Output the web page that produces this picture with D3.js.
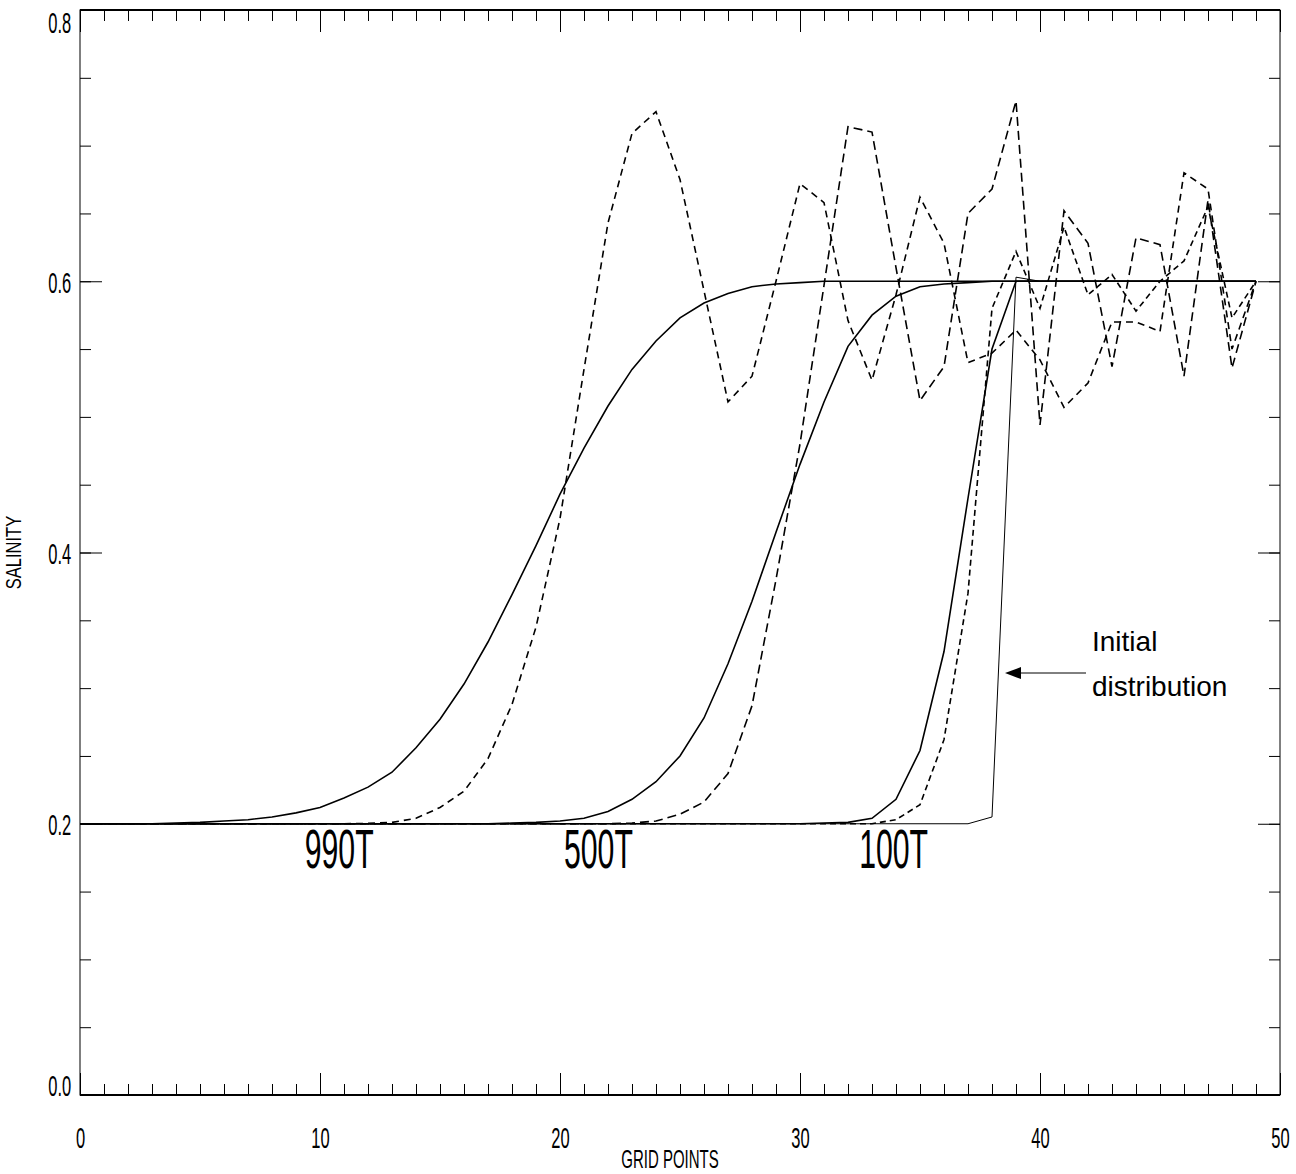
<!DOCTYPE html>
<html lang="en">
<head>
<meta charset="UTF-8">
<title>Salinity along the grid</title>
<script src="https://d3js.org/d3.v7.min.js"></script>
<style>
  body { margin: 0; background: #fff; }
  .line { fill: none; stroke: #000; }
  text { font-family: "Liberation Sans", Arial, sans-serif; fill: #000; }
</style>
</head>
<body>
<div id="chart"></div>
<script>

// grid points 0..49
var gridPoints = d3.range(0, 50);

var initialDist = [
  0.2,0.2,0.2,0.2,0.2,0.2,0.2,0.2,0.2,0.2,
  0.2,0.2,0.2,0.2,0.2,0.2,0.2,0.2,0.2,0.2,
  0.2,0.2,0.2,0.2,0.2,0.2,0.2,0.2,0.2,0.2,
  0.2,0.2,0.2,0.2,0.2,0.2,0.2,0.2,0.205,0.603,
  0.6,0.6,0.6,0.6,0.6,0.6,0.6,0.6,0.6,0.6];

// smooth scheme (solid)
var solid990 = [
  0.2,0.2,0.2,0.2,0.2005,0.201,0.202,0.203,0.205,0.208,
  0.212,0.219,0.227,0.238,0.256,0.277,0.303,0.334,0.369,0.405,
  0.443,0.477,0.508,0.535,0.556,0.573,0.584,0.591,0.596,0.598,
  0.599,0.6,0.6,0.6,0.6,0.6,0.6,0.6,0.6,0.6,
  0.6,0.6,0.6,0.6,0.6,0.6,0.6,0.6,0.6,0.6];
var solid500 = [
  0.2,0.2,0.2,0.2,0.2,0.2,0.2,0.2,0.2,0.2,
  0.2,0.2,0.2,0.2,0.2,0.2,0.2,0.2,0.2005,0.201,
  0.202,0.204,0.209,0.218,0.231,0.25,0.278,0.318,0.364,0.415,
  0.465,0.511,0.552,0.575,0.589,0.596,0.598,0.599,0.6,0.6,
  0.6,0.6,0.6,0.6,0.6,0.6,0.6,0.6,0.6,0.6];
var solid100 = [
  0.2,0.2,0.2,0.2,0.2,0.2,0.2,0.2,0.2,0.2,
  0.2,0.2,0.2,0.2,0.2,0.2,0.2,0.2,0.2,0.2,
  0.2,0.2,0.2,0.2,0.2,0.2,0.2,0.2,0.2,0.2,
  0.2,0.2005,0.201,0.204,0.218,0.254,0.327,0.44,0.55,0.6,
  0.6,0.6,0.6,0.6,0.6,0.6,0.6,0.6,0.6,0.6];

// oscillating scheme (dashed)
var dashed990 = [
  0.2,0.2,0.2,0.2,0.2,0.2,0.2,0.2,0.2,0.2,
  0.2,0.2,0.2003,0.201,0.204,0.212,0.224,0.248,0.288,0.345,
  0.425,0.535,0.643,0.709,0.725,0.675,0.593,0.511,0.53,0.6,
  0.672,0.658,0.571,0.527,0.59,0.662,0.628,0.54,0.547,0.564,
  0.542,0.507,0.525,0.57,0.57,0.563,0.68,0.668,0.55,0.6];
var dashed500 = [
  0.2,0.2,0.2,0.2,0.2,0.2,0.2,0.2,0.2,0.2,
  0.2,0.2,0.2,0.2,0.2,0.2,0.2,0.2,0.2,0.2,
  0.2,0.2,0.2,0.2005,0.202,0.207,0.216,0.237,0.287,0.38,
  0.48,0.597,0.714,0.71,0.61,0.512,0.537,0.65,0.668,0.733,
  0.494,0.652,0.628,0.537,0.632,0.627,0.53,0.66,0.536,0.6];
var dashed100 = [
  0.2,0.2,0.2,0.2,0.2,0.2,0.2,0.2,0.2,0.2,
  0.2,0.2,0.2,0.2,0.2,0.2,0.2,0.2,0.2,0.2,
  0.2,0.2,0.2,0.2,0.2,0.2,0.2,0.2,0.2,0.2,
  0.2,0.2,0.2,0.2,0.203,0.214,0.262,0.37,0.58,0.622,
  0.58,0.64,0.59,0.605,0.578,0.6,0.615,0.655,0.573,0.6];

var yTickMajor = [0, 0.2, 0.4, 0.6, 0.8];
var xTickMajor = [0, 10, 20, 30, 40, 50];
var curveLabels = ["990T", "500T", "100T"];
var curveLabelAt = [10.8, 21.6, 33.9];   // grid point under each label

var width = 1296, height = 1174;
var box = {left: 80, right: 1280, top: 10, bottom: 1095};
var narrow = "scale(0.55,1)";

var svg = d3.select("#chart").append("svg")
    .attr("width", width)
    .attr("height", height);

var x = d3.scaleLinear().domain([0, 50]).range([box.left, box.right]);
var y = d3.scaleLinear().domain([0, 0.8]).range([box.bottom, box.top]);

var line = d3.line()
    .x(function(d, i) { return x(gridPoints[i]); })
    .y(function(d) { return y(d); });

// frame
svg.append("rect")
    .attr("x", box.left).attr("y", box.top)
    .attr("width", box.right - box.left).attr("height", box.bottom - box.top)
    .attr("fill", "none").attr("stroke", "#000").attr("stroke-width", 1);
svg.append("line").attr("x1", box.left).attr("x2", box.right).attr("y1", box.top).attr("y2", box.top)
    .attr("stroke", "#000").attr("stroke-width", 2);
svg.append("line").attr("x1", box.left).attr("x2", box.right).attr("y1", box.bottom).attr("y2", box.bottom)
    .attr("stroke", "#000").attr("stroke-width", 2);

var minorX = d3.range(0, 51);
var minorY = d3.range(0, 17).map(function(i) { return i * 0.05; });

function ticks(axis, pos) {
  var g = svg.append("g").attr("transform", pos).call(axis);
  g.select(".domain").remove();
  g.selectAll("line").attr("stroke", "#000").attr("stroke-width", 1);
  return g;
}

ticks(d3.axisBottom(x).tickValues(minorX).tickSize(-11).tickFormat(""), "translate(0," + box.bottom + ")");
ticks(d3.axisTop(x).tickValues(minorX).tickSize(-11).tickFormat(""), "translate(0," + box.top + ")");
ticks(d3.axisTop(x).tickValues(xTickMajor).tickSize(-22).tickFormat(""), "translate(0," + box.top + ")");
ticks(d3.axisLeft(y).tickValues(minorY).tickSize(-11).tickFormat(""), "translate(" + box.left + ",0)");
ticks(d3.axisRight(y).tickValues(minorY).tickSize(-11).tickFormat(""), "translate(" + box.right + ",0)");
ticks(d3.axisRight(y).tickValues(yTickMajor).tickSize(-22).tickFormat(""), "translate(" + box.right + ",0)");

var xAx = ticks(d3.axisBottom(x).tickValues(xTickMajor).tickSize(-22).tickPadding(32), "translate(0," + box.bottom + ")");
xAx.selectAll("text")
    .attr("font-size", 30).attr("font-family", "Liberation Sans, Arial, sans-serif")
    .attr("transform", narrow);

var yAx = ticks(d3.axisLeft(y).tickValues(yTickMajor).tickSize(-22).tickPadding(16).tickFormat(d3.format(".1f")), "translate(" + box.left + ",0)");
yAx.selectAll("text")
    .attr("font-size", 30).attr("font-family", "Liberation Sans, Arial, sans-serif")
    .attr("transform", narrow)
    .attr("dy", function(d) { return d === 0.8 ? "0.74em" : (d === 0 ? "0em" : "0.36em"); });

// curves
var series = [
  {v: initialDist, w: 1, dash: null},
  {v: solid990, w: 1.6, dash: null},
  {v: solid500, w: 1.6, dash: null},
  {v: solid100, w: 1.6, dash: null},
  {v: dashed990, w: 1.6, dash: "7,5"},
  {v: dashed500, w: 1.6, dash: "9,5"},
  {v: dashed100, w: 1.6, dash: "6,4"}
];

svg.selectAll("path.line")
    .data(series)
  .enter().append("path")
    .attr("class", "line")
    .attr("d", function(s) { return line(s.v); })
    .attr("stroke-width", function(s) { return s.w; })
    .attr("stroke-dasharray", function(s) { return s.dash; });

// axis titles
svg.append("g").attr("transform", "translate(670,1168)")
  .append("text").attr("text-anchor", "middle").attr("font-size", 25)
    .attr("transform", "scale(0.6,1)").text("GRID POINTS");

svg.append("g").attr("transform", "translate(21," + y(0.4) + ") rotate(-90)")
  .append("text").attr("text-anchor", "middle").attr("font-size", 22)
    .attr("transform", "scale(0.75,1)").text("SALINITY");

// curve labels
curveLabels.forEach(function(t, i) {
  svg.append("g").attr("transform", "translate(" + x(curveLabelAt[i]) + ",868)")
    .append("text").attr("text-anchor", "middle").attr("font-size", 55)
      .attr("transform", narrow).text(t);
});

// annotation for the initial distribution
var arrowY = 673;
svg.append("line")
    .attr("x1", 1086).attr("x2", 1018).attr("y1", arrowY).attr("y2", arrowY)
    .attr("stroke", "#000").attr("stroke-width", 1);
svg.append("path")
    .attr("d", "M1005," + arrowY + "L1021," + (arrowY - 6) + "L1021," + (arrowY + 6) + "Z")
    .attr("fill", "#000");
svg.append("text").attr("x", 1092).attr("y", 651).attr("font-size", 28).text("Initial");
svg.append("text").attr("x", 1092).attr("y", 696).attr("font-size", 28).text("distribution");

</script>
</body>
</html>
